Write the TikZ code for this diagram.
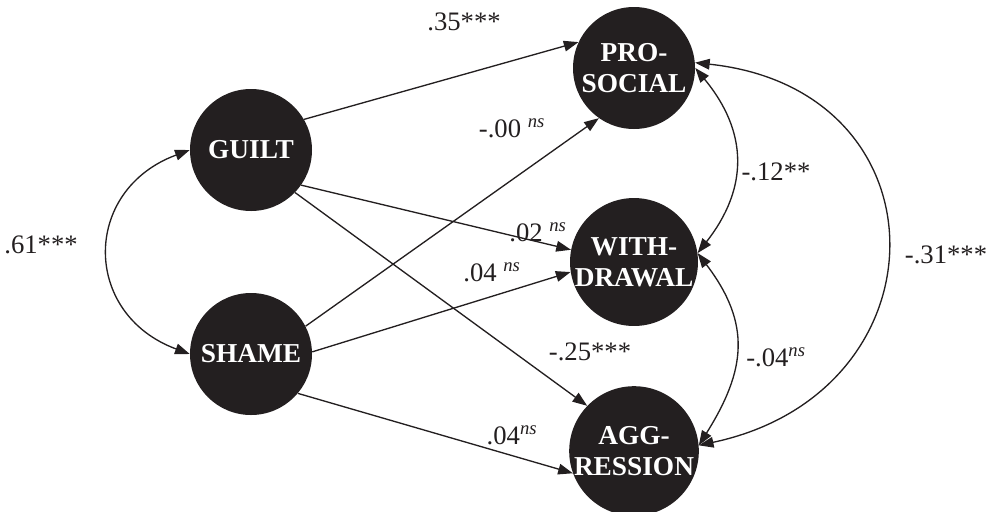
\documentclass[tikz,border=0pt]{standalone}
\usepackage{fontspec}
\setmainfont{Liberation Serif}
\usetikzlibrary{arrows.meta}

\definecolor{ink}{RGB}{35,31,32}
\tikzset{
  factor/.style={circle, fill=ink, text=white, minimum size=91.5pt, inner sep=0pt,
    align=center, font=\fontsize{20.5}{23}\selectfont\bfseries},
  effect/.style={draw=ink, line width=1pt, -{Triangle[length=11pt,width=8pt]}},
  covar/.style={draw=ink, line width=1pt,
    {Triangle[length=11pt,width=8pt]}-{Triangle[length=11pt,width=8pt]}},
  coef/.style={inner sep=0pt, text=ink, font=\fontsize{20}{23}\selectfont},
}
\newcommand{\nsup}{\textsuperscript{\itshape ns}}

\begin{document}
\begin{tikzpicture}[x=0.75pt,y=0.75pt,yscale=-1,xscale=1]
\useasboundingbox (0,0) rectangle (991,511);

%Latent factors
\node[factor] (guilt) at (251,150) {GUILT};
\node[factor] (shame) at (251,354) {SHAME};
\node[factor] (prosoc) at (634,68) {PRO-\\SOCIAL};
\node[factor] (withdr) at (634,262) {WITH-\\DRAWAL};
\node[factor] (aggr) at (634,451) {AGG-\\RESSION};

%Paths
\draw[effect] (guilt.30) -- (prosoc.155);
\draw[effect] (shame.27) -- (prosoc.235);
\draw[effect] (guilt.-35) -- (withdr.169);
\draw[effect] (shame.2) -- (withdr.189);
\draw[effect] (guilt.-44) -- (aggr.136);
\draw[effect] (shame.-40) -- (aggr.200);

%Covariances
\draw[covar] (guilt.west) .. controls +(-108,40) and +(-108,-40) .. (shame.west);
\draw[covar] (prosoc.east) .. controls +(53,64) and +(51,-65) .. (withdr.8);
\draw[covar] (withdr.8) .. controls +(54,71) and +(47,-75) .. (aggr.5);
\draw[covar] (prosoc.5) .. controls +(255,27) and +(250,-53) .. (aggr.5);

% Text Node
\node[coef] (c35) at (464,22) {.35***};
\node[coef] (c00) at (512,128) {-.00 \nsup};
\node[coef] (c02) at (538,232) {.02 \nsup};
\node[coef] (c04a) at (492,272) {.04 \nsup};
\node[coef] (c25) at (590,352) {-.25***};
\node[coef] (c04b) at (512,435) {.04\nsup};
\node[coef] (c61) at (41,245) {.61***};
\node[coef] (c12) at (776,172) {-.12**};
\node[coef] (c04c) at (776,357) {-.04\nsup};
\node[coef] (c31) at (946,255) {-.31***};

\end{tikzpicture}
\end{document}
